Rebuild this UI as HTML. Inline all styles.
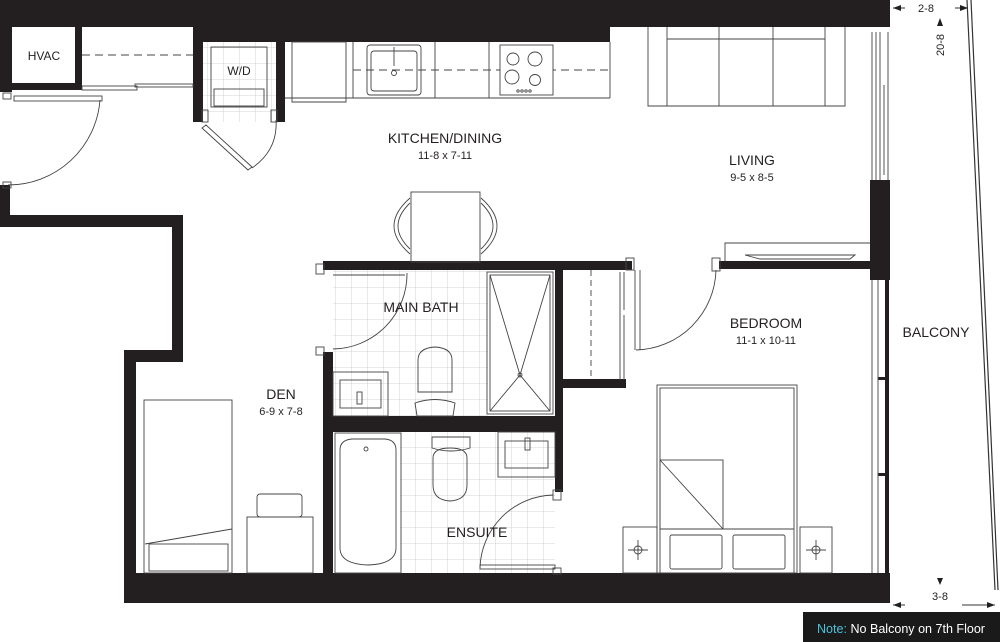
<!DOCTYPE html>
<html><head><meta charset="utf-8"><style>
html,body{margin:0;padding:0;background:#fff;}
svg{display:block;font-family:"Liberation Sans",Arial,sans-serif;}
</style></head><body>
<svg width="1000" height="642" viewBox="0 0 1000 642" xmlns="http://www.w3.org/2000/svg">
<defs>
<pattern id="tile" width="16" height="16" patternUnits="userSpaceOnUse">
<path d="M16 0V16H0" fill="none" stroke="#c8c8c8" stroke-width="0.8"/>
</pattern>
</defs>
<rect width="1000" height="642" fill="#fff"/>
<!-- tiles -->
<rect x="333" y="270" width="155" height="146" fill="url(#tile)"/>
<rect x="400" y="432" width="155" height="141" fill="url(#tile)"/>
<rect x="203" y="42" width="73" height="80" fill="url(#tile)"/>

<g fill="#231f20">
<rect x="0" y="0" width="890" height="27"/>
<rect x="199" y="27" width="411" height="15"/>
<rect x="0" y="0" width="12" height="92"/>
<rect x="75" y="27" width="7" height="63"/>
<rect x="12" y="83" width="70" height="7"/>
<rect x="0" y="185" width="10" height="40"/>
<rect x="193" y="27" width="10" height="95"/>
<rect x="276" y="42" width="9" height="80"/>
<rect x="0" y="215" width="183" height="12"/>
<rect x="172" y="215" width="11" height="147"/>
<rect x="124" y="350" width="59" height="12"/>
<rect x="124" y="350" width="12" height="253"/>
<rect x="124" y="573" width="766" height="30"/>
<rect x="323" y="352" width="10" height="223"/>
<rect x="323" y="261" width="309" height="9"/>
<rect x="330" y="416" width="226" height="16"/>
<rect x="555" y="270" width="8" height="222"/>
<rect x="563" y="379" width="63" height="9"/>
<rect x="719" y="261" width="153" height="8"/>
<rect x="870" y="180" width="20" height="100"/>
<rect x="870" y="0" width="20" height="27"/>
<rect x="885" y="280" width="4" height="293"/>
<rect x="878" y="377" width="10" height="3"/>
<rect x="878" y="473" width="10" height="3"/>
</g>
<rect x="12" y="27" width="63" height="56" fill="#fff"/>
<text x="44" y="60" font-size="12" text-anchor="middle" fill="#231f20">HVAC</text>

<g fill="none" stroke="#444" stroke-width="0.9">
<path d="M82 55H193" stroke-dasharray="8,5"/>
<rect x="82" y="86" width="55" height="4"/>
<rect x="135" y="84" width="58" height="3"/>
<rect x="14" y="96" width="88" height="5"/>
<path d="M100 100A92 92 0 0 1 8 185"/>
<rect x="3" y="93" width="8" height="6"/>
<rect x="3" y="182" width="8" height="6"/>
<!-- W/D -->
<rect x="211" y="47" width="56" height="60"/>
<rect x="214" y="89" width="50" height="17"/>
<path d="M206 125L252 167L248 170L202 128Z"/>
<path d="M276 120Q278 150 252 168"/>
<rect x="202" y="110" width="6" height="12"/>
<rect x="271" y="110" width="6" height="12"/>
<!-- kitchen counter -->
<path d="M285 98H610"/>
<rect x="292" y="42" width="54" height="56"/>
<path d="M292 98V102H346V98"/>
<path d="M353 42V98M435 42V98M489 42V98"/>
<path d="M353 70H610" stroke-dasharray="8,5"/>
<rect x="367" y="45" width="54" height="50" rx="3"/>
<rect x="371" y="51" width="46" height="40" rx="3"/>
<path d="M394 47V66"/>
<circle cx="394" cy="73" r="2.5"/>
<rect x="500" y="45" width="53" height="50" fill="#fff"/>
<circle cx="513" cy="59" r="6"/><circle cx="535" cy="59" r="7"/>
<circle cx="512" cy="77" r="7"/><circle cx="535" cy="80" r="5.5"/>
<circle cx="518" cy="91" r="1.2"/><circle cx="522" cy="91" r="1.2"/><circle cx="526" cy="91" r="1.2"/><circle cx="530" cy="91" r="1.2"/>
<path d="M610 42V98"/>
<!-- dining -->
<rect x="411" y="192" width="69" height="70"/>
<path d="M410 198Q378 226 410 254M410 203Q386 226 410 249"/>
<path d="M481 198Q513 226 481 254M481 203Q505 226 481 249"/>
<!-- sofa -->
<path d="M648 27V106H845V27"/>
<path d="M667 27V106M825 27V106M667 39H825M719 27V106M773 27V106"/>
<path d="M872 32V180M876 32V180M880 32V180M884 85V175M888 32V180"/>
<path d="M725 261V243H870"/>
<path d="M745 255H855L850 259H760Z"/>
<path d="M872 280V573M878 280V573"/>
<!-- bedroom door -->
<path d="M635 270V350"/>
<path d="M640 270V350"/>
<path d="M636 350A82 82 0 0 0 716 270"/>
<rect x="712" y="258" width="8" height="13"/>
<!-- closet -->
<path d="M591 270V380" stroke-dasharray="6,4"/>
<path d="M620 272V380M624 272V310M624 315V380"/>
<rect x="626" y="258" width="8" height="12"/>
<!-- main bath -->
<rect x="316" y="264" width="8" height="10"/>
<rect x="316" y="347" width="8" height="8"/>
<path d="M333 275H405M407 273A75 75 0 0 1 333 349"/>
<rect x="487" y="272" width="66" height="142"/>
<rect x="490" y="275" width="60" height="136"/>
<path d="M490 275L520 375L550 275M490 411L520 375L550 411"/>
<circle cx="520" cy="375" r="2"/>
<path d="M418 392V360Q418 348 435 347Q452 348 452 360V392Z"/>
<path d="M415 403Q435 396 455 403L453 416H417Z"/>
<rect x="333" y="372" width="55" height="44"/>
<rect x="340" y="380" width="41" height="28"/>
<rect x="357" y="392" width="5" height="12"/>
<!-- ensuite -->
<rect x="335" y="433" width="66" height="140"/>
<path d="M340 450Q340 440 352 439H385Q396 440 396 450V548Q396 564 368 565Q340 564 340 548Z"/>
<circle cx="366" cy="449" r="2"/>
<path d="M432 437H470V448Q451 454 432 448Z"/>
<path d="M433 458Q433 448 450 448Q467 448 467 458V485Q467 500 450 501Q433 500 433 485Z"/>
<rect x="498" y="432" width="57" height="45"/>
<rect x="505" y="441" width="43" height="27"/>
<rect x="525" y="438" width="5" height="12"/>
<path d="M553 495A75 75 0 0 0 480 568"/>
<rect x="480" y="565" width="75" height="4"/>
<rect x="553" y="490" width="8" height="10"/>
<rect x="553" y="568" width="8" height="6"/>
<!-- den furniture -->
<rect x="144" y="400" width="88" height="173"/>
<path d="M145 544L232 529"/>
<rect x="149" y="544" width="79" height="27"/>
<rect x="247" y="517" width="66" height="56"/>
<rect x="257" y="494" width="45" height="23" rx="3"/>
<!-- bed -->
<rect x="657" y="385" width="140" height="188"/>
<rect x="660" y="388" width="134" height="185"/>
<rect x="660" y="460" width="63" height="69"/>
<path d="M660 460L723 529M660 529H794"/>
<rect x="670" y="535" width="52" height="34" rx="2"/>
<rect x="733" y="535" width="52" height="34" rx="2"/>
<rect x="623" y="527" width="34" height="46"/>
<rect x="800" y="527" width="32" height="46"/>
<circle cx="638" cy="550" r="4"/><path d="M628 550H648M638 540V560"/>
<circle cx="816" cy="550" r="4"/><path d="M806 550H826M816 540V560"/>
<path d="M967 0L995 590M971 0L998 590" stroke="#333" stroke-width="1.2"/>
<path d="M893 8H905M955 8H968M893 605H905M962 605H995" stroke="#333"/>
</g>
<g fill="#231f20">
<path d="M893 8L901 5V11Z"/><path d="M968 8L960 5V11Z"/>
<path d="M893 605L901 602V608Z"/><path d="M995 605L987 602V608Z"/>
<path d="M940 18L937 26H943Z"/><path d="M940 585L937 578H943Z"/>
</g>
<g fill="#231f20" text-anchor="middle">
<text x="239" y="75" font-size="12">W/D</text>
<text x="445" y="143" font-size="14">KITCHEN/DINING</text>
<text x="445" y="159" font-size="11">11-8 x 7-11</text>
<text x="752" y="165" font-size="14">LIVING</text>
<text x="752" y="181" font-size="11">9-5 x 8-5</text>
<text x="766" y="328" font-size="14">BEDROOM</text>
<text x="766" y="344" font-size="11">11-1 x 10-11</text>
<text x="421" y="312" font-size="14">MAIN BATH</text>
<text x="281" y="399" font-size="14">DEN</text>
<text x="281" y="415" font-size="11">6-9 x 7-8</text>
<text x="477" y="537" font-size="14">ENSUITE</text>
<text x="936" y="337" font-size="14">BALCONY</text>
<text x="926" y="12" font-size="11">2-8</text>
<text x="940" y="600" font-size="11">3-8</text>
<text x="0" y="0" font-size="11" transform="translate(944,45) rotate(-90)">20-8</text>
</g>
<rect x="803" y="612" width="197" height="30" fill="#1a1a1a"/>
<text x="817" y="633" font-size="13" fill="#fff" textLength="168" lengthAdjust="spacingAndGlyphs"><tspan fill="#4cc3d9">Note:</tspan> No Balcony on 7th Floor</text>
</svg>
</body></html>
